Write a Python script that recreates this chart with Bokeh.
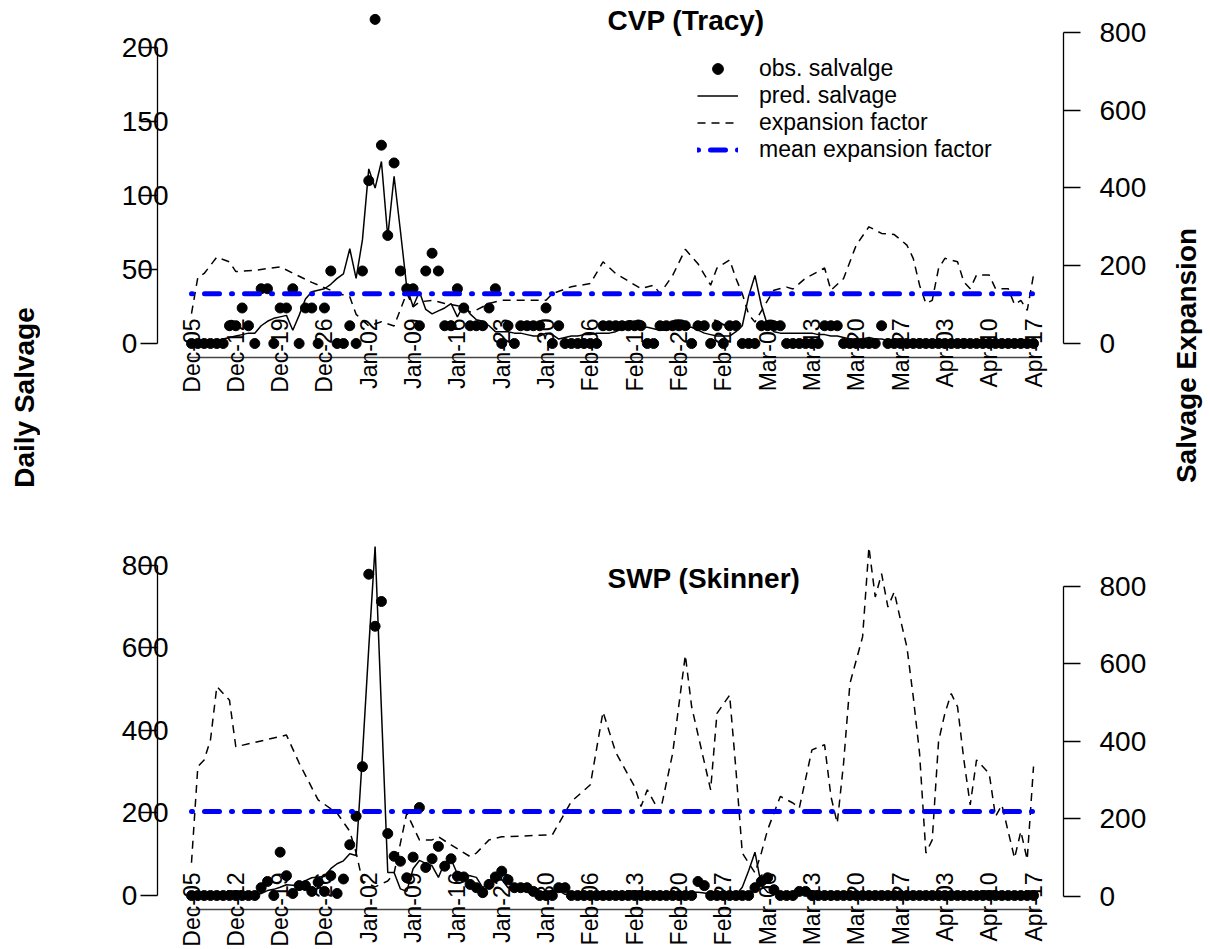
import math
from bokeh.plotting import figure
from bokeh.models import (Range1d, LinearAxis, FixedTicker, Label, Legend, LegendItem)
from bokeh.layouts import column, row
from bokeh.embed import file_html
from bokeh.resources import INLINE

# ---------------- data ----------------
tick_labels = ["Dec-05", "Dec-12", "Dec-19", "Dec-26", "Jan-02", "Jan-09", "Jan-16",
               "Jan-23", "Jan-30", "Feb-06", "Feb-13", "Feb-20", "Feb-27", "Mar-06",
               "Mar-13", "Mar-20", "Mar-27", "Apr-03", "Apr-10", "Apr-17"]
tick_days = [0, 7, 14, 21, 28, 35, 42, 49, 56, 63, 70, 77, 84, 91, 98, 105, 112, 119, 126, 133]

cvp_obs = [0, 0, 0, 0, 0, 0, 12, 12, 24, 12,
           0, 37, 37, 0, 24, 24, 37, 0, 24, 24,
           0, 24, 49, 0, 0, 12, 0, 49, 110, 219,
           134, 73, 122, 49, 37, 37, 12, 49, 61, 49,
           12, 12, 37, 24, 12, 12, 12, 24, 37, 0,
           12, 0, 12, 12, 12, 12, 24, 0, 12, 0,
           0, 0, 0, 0, 0, 12, 12, 12, 12, 12,
           12, 12, 0, 0, 12, 12, 12, 12, 12, 0,
           12, 12, 0, 12, 0, 12, 12, 0, 0, 0,
           12, 12, 12, 12, 0, 0, 0, 0, 0, 0,
           12, 12, 12, 0, 0, 0, 0, 0, 0, 12,
           0, 0, 0, 0, 0, 0, 0, 0, 0, 0,
           0, 0, 0, 0, 0, 0, 0, 0, 0, 0,
           0, 0, 0, 0]
cvp_pred = [1, 1, 1, 1, 2, 3, 4, 5, 6, 7,
            7, 12, 15, 17, 18, 19, 9, 19, 30, 35,
            36, 37, 40, 44, 47, 64, 44, 70, 118, 105,
            123, 72, 113, 76, 38, 25, 35, 23, 20, 22,
            24, 27, 18, 26, 20, 16, 15, 12, 8, 8,
            8, 7, 7, 6, 5, 5, 7, 6, 3, 4,
            5, 5, 6, 6, 7, 7, 7, 8, 10, 10,
            11, 11, 11, 10, 9, 9, 10, 10, 11, 11,
            9, 7, 6, 5, 5, 5, 8, 12, 32, 46,
            26, 12, 8, 7, 7, 7, 7, 7, 7, 6,
            6, 5, 5, 4, 3, 3, 3, 4, 3, 3,
            2, 3, 3, 2, 2, 3, 2, 2, 3, 2,
            2, 2, 3, 2, 2, 2, 3, 2, 2, 2,
            2, 3, 2, 2]
cvp_exp_days = [0, 1, 2, 4, 6, 7, 10, 14, 19, 23, 25, 26, 28, 30, 32, 34, 35, 36, 38, 40,
                43, 44, 45, 47, 49, 56, 57, 60, 63, 65, 67, 71, 73, 74, 76, 78, 80, 82, 83,
                85, 86, 87, 88, 89, 91, 92, 94, 95, 97, 100, 101, 103, 105, 107, 109, 111,
                113, 114, 115, 116, 117, 118, 119, 121, 122, 123, 124, 126, 127, 129, 130,
                131, 132, 133]
cvp_exp = [77, 170, 180, 222, 210, 185, 188, 197, 157, 130, 120, 75, 45, 56, 45, 130, 94,
           107, 111, 103, 94, 81, 86, 103, 111, 111, 128, 146, 154, 210, 180, 141, 150,
           128, 175, 242, 205, 150, 194, 215, 167, 128, 75, 55, 111, 137, 145, 140, 168,
           194, 137, 167, 253, 300, 283, 280, 253, 219, 150, 103, 111, 193, 219, 210, 158,
           141, 176, 176, 141, 141, 100, 111, 85, 176]
cvp_exp_mean = 128

swp_obs = [0, 0, 0, 0, 0, 0, 0, 0, 0, 0,
           0, 19, 34, 0, 105, 48, 5, 24, 24, 10,
           32, 10, 48, 5, 40, 123, 192, 312, 778, 652,
           712, 150, 95, 83, 43, 93, 213, 68, 89, 119,
           71, 89, 47, 45, 27, 19, 7, 27, 45, 59,
           38, 19, 19, 19, 10, 0, 0, 0, 19, 19,
           0, 0, 0, 0, 0, 0, 0, 0, 0, 0,
           0, 0, 0, 0, 0, 0, 0, 0, 0, 0,
           34, 24, 0, 0, 0, 0, 0, 0, 0, 19,
           34, 43, 14, 0, 0, 0, 10, 10, 0, 0,
           0, 0, 0, 0, 0, 0, 0, 0, 0, 0,
           0, 0, 0, 0, 0, 0, 0, 0, 0, 0,
           0, 0, 0, 0, 0, 0, 0, 0, 0, 0,
           0, 0, 0, 0]
swp_pred = [0, 0, 0, 0, 0, 0, 0, 0, 0, 0,
            2, 5, 12, 15, 20, 26, 25, 24, 36, 43,
            45, 46, 65, 77, 84, 101, 97, 340, 600, 845,
            450, 56, 56, 16, 10, 65, 85, 78, 72, 44,
            80, 88, 52, 50, 48, 44, 19, 30, 35, 39,
            19, 19, 15, 15, 10, 8, 10, 12, 12, 3,
            2, 1, 1, 1, 1, 1, 1, 1, 1, 1,
            1, 1, 1, 2, 2, 2, 3, 4, 5, 8,
            8, 6, 3, 2, 1, 1, 2, 20, 60, 105,
            25, 8, 4, 3, 3, 3, 3, 4, 4, 3,
            3, 2, 2, 2, 2, 2, 2, 2, 2, 2,
            2, 2, 2, 2, 2, 2, 2, 2, 2, 2,
            2, 2, 2, 2, 2, 2, 2, 2, 2, 2,
            2, 2, 2, 2]
swp_exp_days = [0, 1, 2, 3, 4, 6, 7, 15, 17, 20, 23, 25, 26, 27, 29, 31, 32, 34, 36, 38,
                39, 41, 44, 45, 47, 49, 57, 60, 63, 65, 67, 70, 71, 72, 74, 76, 78, 79, 82,
                83, 85, 86, 87, 89, 90, 91, 93, 95, 96, 98, 100, 101, 102, 103, 104, 106,
                107, 108, 109, 110, 111, 112, 113, 114, 115, 116, 117, 118, 119, 120, 121,
                122, 123, 124, 126, 127, 128, 130, 131, 132, 133]
swp_exp = [87, 335, 352, 404, 541, 506, 386, 416, 344, 249, 215, 168, 113, 40, 25, 40, 60,
           215, 146, 146, 154, 133, 103, 112, 146, 154, 159, 245, 288, 476, 372, 283, 232,
           275, 215, 369, 622, 489, 275, 472, 519, 326, 112, 61, 112, 172, 258, 241, 228,
           378, 391, 258, 189, 344, 549, 669, 900, 772, 832, 746, 785, 712, 643, 515, 369,
           112, 146, 400, 472, 523, 489, 352, 236, 352, 317, 206, 236, 99, 168, 95, 335]
swp_exp_mean = 219

cvp_left_ticks = [0, 50, 100, 150, 200]
swp_left_ticks = [0, 200, 400, 600, 800]
right_ticks = [0, 200, 400, 600, 800]

days = list(range(len(cvp_obs)))

# ---------------- geometry (page pixels) ----------------
PAGE_W, PAGE_H = 1210, 949
SIDE_L, SIDE_R = 40, 45
MW = PAGE_W - SIDE_L - SIDE_R        # width of the two panel figures
X0 = 191.0 - SIDE_L                  # figure pixel of day 0
XS = 6.331                           # pixels per day
FL, FR = 157 - SIDE_L, 1063 - SIDE_L
FONT = "Liberation Sans"
TICK_FS = "28px"
FIG_SPACE = "\u2007"                 # digit-wide space: keeps labels' left edges aligned


def xd(px):
    return (px - X0) / XS


def yd(px, zero, scale):
    return (zero - px) / scale


def panel(H, fb, lz, ls, rz, rs, left_ticks, obs, pred, exp_days, exp, exp_mean,
          title, title_y, xlab_standoff, legend=False):
    p = figure(width=MW, height=H, x_range=Range1d(xd(FL), xd(FR)),
               y_range=Range1d(yd(fb, lz, ls), yd(0, lz, ls)),
               x_axis_type=None, y_axis_type=None,
               output_backend="svg", toolbar_location=None,
               min_border_left=FL, min_border_right=MW - FR,
               min_border_top=0, min_border_bottom=H - fb)
    p.outline_line_color = None
    p.background_fill_color = "white"
    p.border_fill_color = "white"
    p.extra_y_ranges = {"exp": Range1d(yd(fb, rz, rs), yd(0, rz, rs))}

    width = max(len(str(t)) for t in left_ticks)
    lax = LinearAxis(ticker=FixedTicker(ticks=left_ticks),
                     bounds=(left_ticks[0], left_ticks[-1]),
                     major_label_overrides={t: str(t) + FIG_SPACE * (width - len(str(t)))
                                            for t in left_ticks},
                     major_tick_out=17, major_tick_in=0, minor_tick_out=0, minor_tick_in=0,
                     major_label_standoff=-28, major_label_text_font=FONT,
                     major_label_text_font_size=TICK_FS, major_label_text_color="black",
                     axis_line_width=1.3, major_tick_line_width=1.3)
    p.add_layout(lax, "left")

    rax = LinearAxis(y_range_name="exp", ticker=FixedTicker(ticks=right_ticks),
                     bounds=(right_ticks[0], right_ticks[-1]),
                     major_tick_out=17, major_tick_in=0, minor_tick_out=0, minor_tick_in=0,
                     major_label_standoff=19, major_label_text_font=FONT,
                     major_label_text_font_size=TICK_FS, major_label_text_color="black",
                     axis_line_width=1.3, major_tick_line_width=1.3)
    p.add_layout(rax, "right")
    bax = LinearAxis(ticker=FixedTicker(ticks=tick_days), bounds=(-0.6, 134.1),
                     major_label_overrides={d: t for d, t in zip(tick_days, tick_labels)},
                     major_label_orientation=math.pi / 2,
                     major_label_standoff=xlab_standoff,
                     major_label_text_font=FONT, major_label_text_font_size="23px",
                     major_label_text_color="black",
                     major_tick_out=0, major_tick_in=0, minor_tick_out=0, minor_tick_in=0,
                     axis_line_width=1.3, axis_line_color="#444444")
    p.add_layout(bax, "below")

    r_obs = p.scatter(days, obs, size=10, color="black", marker="circle")
    r_pred = p.line(days, pred, line_color="black", line_width=1.5)
    r_exp = p.line(exp_days, exp, line_color="black", line_width=1.5, line_dash="8 6",
                   y_range_name="exp")
    r_mean = p.line([tick_days[0], tick_days[-1]], [exp_mean, exp_mean],
                    line_color="#0000FF", line_width=5, line_dash="1 12 15 12",
                    line_cap="round", y_range_name="exp")

    p.add_layout(Label(x=xd(607 - SIDE_L), y=yd(title_y, lz, ls), text=title, text_font=FONT,
                       text_font_style="bold", text_font_size="28px",
                       text_align="left", text_baseline="middle", text_color="black"))

    if legend:
        leg = Legend(items=[LegendItem(label="obs. salvalge", renderers=[r_obs]),
                            LegendItem(label="pred. salvage", renderers=[r_pred]),
                            LegendItem(label="expansion factor", renderers=[r_exp]),
                            LegendItem(label="mean expansion factor", renderers=[r_mean])],
                     location=(540, 194), border_line_color=None, background_fill_alpha=0,
                     padding=0, spacing=0, margin=0, glyph_width=41, glyph_height=27,
                     label_height=27, label_standoff=21, label_text_font=FONT,
                     label_text_font_size="23px", label_text_baseline="middle",
                     label_text_color="black")
        p.add_layout(leg)
    return p


H1 = 500
H2 = PAGE_H - H1
# top panel: frame bottom 357, left zero 343 (1.48 px/unit), right zero 343 (0.389 px/unit)
p1 = panel(H1, 357, 343, 1.48, 343, 0.389, cvp_left_ticks, cvp_obs, cvp_pred,
           cvp_exp_days, cvp_exp, cvp_exp_mean, "CVP (Tracy)", 20, -39, legend=True)
# bottom panel (figure starts at page y = H1)
p2 = panel(H2, 910 - H1, 896 - H1, 0.414, 897 - H1, 0.389, swp_left_ticks, swp_obs, swp_pred,
           swp_exp_days, swp_exp, swp_exp_mean, "SWP (Skinner)", 578 - H1, -37)


def side(width, text, cx, cy):
    s = figure(width=width, height=PAGE_H, x_range=Range1d(0, width),
               y_range=Range1d(PAGE_H, 0), x_axis_type=None, y_axis_type=None,
               output_backend="svg", toolbar_location=None, min_border=0)
    s.outline_line_color = None
    s.add_layout(Label(x=cx, y=cy, text=text, angle=math.pi / 2, text_font=FONT,
                       text_font_style="bold", text_font_size="28px", text_align="center",
                       text_baseline="middle", text_color="black"))
    return s


left_side = side(SIDE_L, "Daily Salvage", 24, 397)
right_side = side(SIDE_R, "Salvage Expansion", 1186 - (PAGE_W - SIDE_R), 355)

layout = row(left_side, column(p1, p2, spacing=0), right_side, spacing=0)
open("out.html", "w").write(file_html(layout, INLINE))
